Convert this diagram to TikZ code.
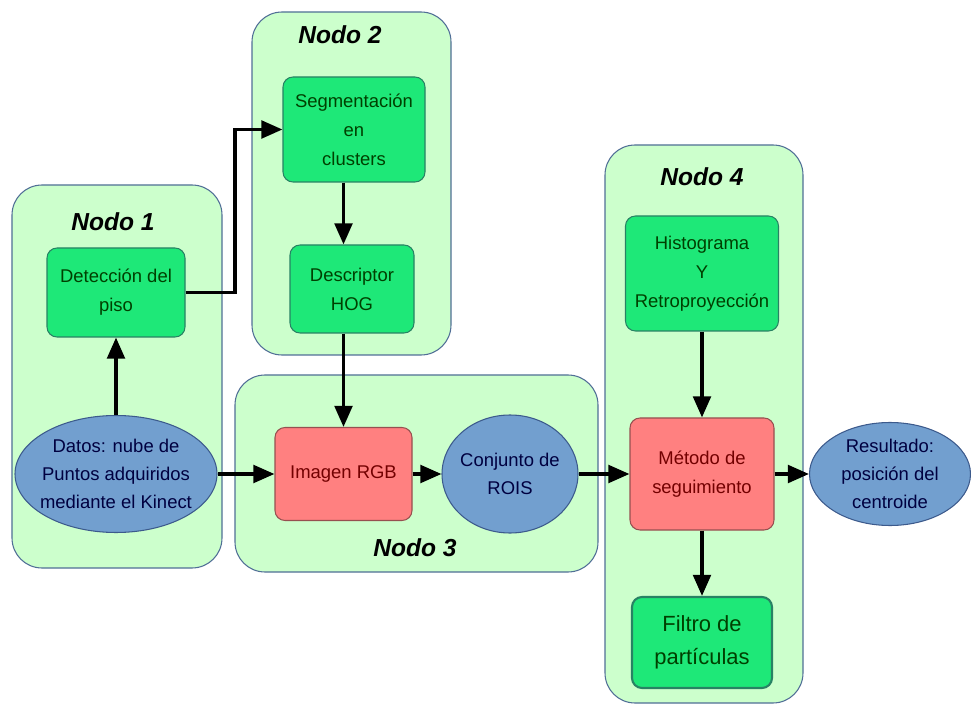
\documentclass[tikz,border=0pt]{standalone}
\usepackage{fontspec}
\setmainfont{Liberation Sans}
\usetikzlibrary{shapes.geometric, arrows.meta, positioning, calc}

\definecolor{grpfill}{RGB}{204,255,204}
\definecolor{grpline}{RGB}{80,110,150}
\definecolor{boxgreen}{RGB}{30,232,120}
\definecolor{boxgreenline}{RGB}{40,130,100}
\definecolor{boxred}{RGB}{255,128,128}
\definecolor{boxredline}{RGB}{150,80,80}
\definecolor{ellblue}{RGB}{114,159,207}
\definecolor{ellblueline}{RGB}{60,90,140}

\begin{document}
\begin{tikzpicture}[
    group/.style={rectangle, rounded corners=0.6cm, draw=grpline, fill=grpfill, line width=0.6pt, inner sep=0pt},
    group title/.style={font=\fontsize{14}{16}\selectfont\bfseries\itshape},
    green process/.style={rectangle, rounded corners=0.2cm, draw=boxgreenline, fill=boxgreen, text=green!25!black, align=center, font=\fontsize{10.5}{16.5}\selectfont, inner sep=0pt, line width=0.6pt},
    red process/.style={rectangle, rounded corners=0.2cm, draw=boxredline, fill=boxred, text=red!45!black, align=center, font=\fontsize{10.5}{16.5}\selectfont, inner sep=0pt, line width=0.6pt},
    data/.style={ellipse, draw=ellblueline, fill=ellblue, text=blue!25!black, align=center, font=\fontsize{10.5}{16}\selectfont, inner xsep=-6pt, inner ysep=-3pt, line width=0.6pt},
    flow/.style={-{Triangle[length=12pt,width=10pt]}, line width=2pt}
]
    \useasboundingbox (0,0) rectangle (19.42,-14.12);

    % Group boxes
    \node (grp1) [group, minimum width=4.20cm, minimum height=7.66cm] at (2.34,-7.53) {};
    \node (grp2) [group, minimum width=3.98cm, minimum height=6.86cm] at (7.03,-3.67) {};
    \node (grp3) [group, minimum width=7.26cm, minimum height=3.94cm] at (8.33,-9.47) {};
    \node (grp4) [group, minimum width=3.96cm, minimum height=11.16cm] at (14.08,-8.48) {};

    \node (title1) [group title] at (2.26,-4.44) {Nodo 1};
    \node (title2) [group title] at (6.80,-0.70) {Nodo 2};
    \node (title3) [group title] at (8.30,-10.96) {Nodo 3};
    \node (title4) [group title] at (14.04,-3.54) {Nodo 4};

    % Nodo 1
    \node (piso) [green process, minimum width=2.76cm, minimum height=1.78cm] at (2.32,-5.85) {Detección del\\piso};
    \node (datos) [data, minimum width=4.04cm, minimum height=2.34cm] at (2.32,-9.48) {Datos: nube de\\Puntos adquiridos\\mediante el Kinect};

    % Nodo 2
    \node (seg) [green process, minimum width=2.84cm, minimum height=2.10cm] at (7.08,-2.59) {Segmentación\\en\\clusters};
    \node (hog) [green process, minimum width=2.48cm, minimum height=1.76cm] at (7.04,-5.78) {Descriptor\\HOG};

    % Nodo 3
    \node (rgb) [red process, minimum width=2.74cm, minimum height=1.86cm] at (6.87,-9.48) {Imagen RGB};
    \node (rois) [data, minimum width=2.72cm, minimum height=2.36cm] at (10.20,-9.48) {Conjunto de\\ROIS};

    % Nodo 4
    \node (hist) [green process, minimum width=3.06cm, minimum height=2.30cm] at (14.04,-5.47) {Histograma\\Y\\Retroproyección};
    \node (track) [red process, minimum width=2.88cm, minimum height=2.24cm] at (14.04,-9.48) {Método de\\seguimiento};
    \node (filtro) [green process, line width=1.2pt, minimum width=2.80cm, minimum height=1.82cm, font=\fontsize{12.5}{19}\selectfont] at (14.04,-12.85) {Filtro de\\partículas};
    \node (result) [data, minimum width=3.22cm, minimum height=2.06cm] at (17.80,-9.48) {Resultado:\\posición del\\centroide};

    % Paths
    \coordinate (bend) at (4.70,-2.59);
    \draw[flow] (datos) -- (piso);
    \draw[flow] (piso.east) -| (bend) -- (seg.west);
    \draw[flow] (seg.south -| rgb.north) -- (hog.north -| rgb.north);
    \draw[flow] (hog.south -| rgb.north) -- (rgb.north);
    \draw[flow] (datos) -- (rgb);
    \draw[flow] (rgb) -- (rois);
    \draw[flow] (rois) -- (track);
    \draw[flow] (hist) -- (track);
    \draw[flow] (track) -- (filtro);
    \draw[flow] (track) -- (result);
\end{tikzpicture}
\end{document}
